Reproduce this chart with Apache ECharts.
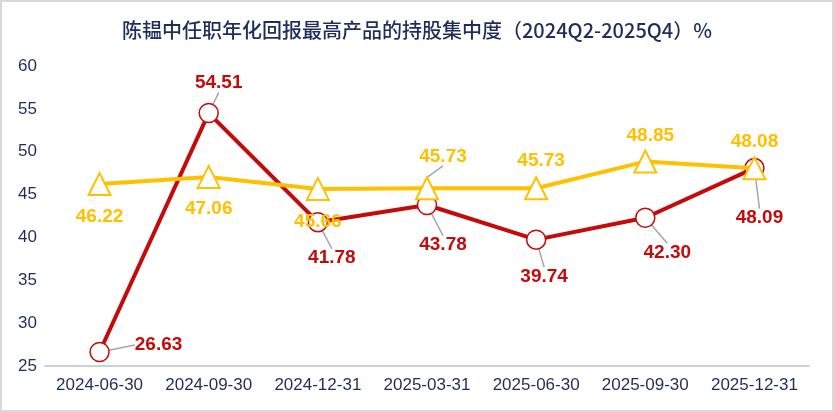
<!DOCTYPE html>
<html><head><meta charset="utf-8">
<script src="https://cdn.jsdelivr.net/npm/echarts@6/dist/echarts.min.js"></script>
<style>
html,body{margin:0;padding:0;background:#fff;}
#wrap{position:absolute;left:0;top:0;width:830px;height:408px;border:2px solid #d9d9d9;}
#c{width:830px;height:408px;}
</style></head>
<body><div id="wrap"><div id="c"></div></div>
<script>
const titleText = '陈韫中任职年化回报最高产品的持股集中度（2024Q2-2025Q4）%';
const categories = ['2024-06-30','2024-09-30','2024-12-31','2025-03-31','2025-06-30','2025-09-30','2025-12-31'];
const redValues = [26.63, 54.51, 41.78, 43.78, 39.74, 42.30, 48.09];
const yellowValues = [46.22, 47.06, 45.66, 45.73, 45.73, 48.85, 48.08];
const yMin = 25, yMax = 60, yStep = 5;

// label offsets (style only)
const redOff = [[59,-7],[10,-30],[14,36],[16,40],[8,37],[22,35],[5,50]];
const yelOff = [[0,33],[0,32],[0,33],[16,-32],[5,-28],[5,-26],[0,-26]];
const yelLine = [false,false,false,true,false,false,false];

const navy = '#1f2d5c';
const red = '#c40a0a';
const yellow = '#ffc000';

const chart = echarts.init(document.getElementById('c'), null, {renderer:'canvas'});
chart.setOption({
  animation:false,
  title:{text:titleText,left:'center',top:13,textStyle:{fontFamily:'"Noto Sans CJK SC", sans-serif',fontSize:20,fontWeight:500,color:navy}},
  grid:{left:43,right:23,top:64,bottom:44},
  xAxis:{type:'category',data:categories,boundaryGap:true,
    axisLine:{lineStyle:{color:'#d0d0d0',width:2}},axisTick:{show:false},
    axisLabel:{interval:0,color:navy,fontSize:17,fontFamily:'"Liberation Sans",Arial,sans-serif',margin:11}},
  yAxis:{type:'value',min:yMin,max:yMax,interval:yStep,splitLine:{show:false},axisLine:{show:false},axisTick:{show:false},
    axisLabel:{color:navy,fontSize:17,fontFamily:'"Liberation Sans",Arial,sans-serif',margin:8,align:'right'}},
  series:[
    {name:'yellow',type:'line',data:yellowValues.map((v,i)=>({value:v,labelLine:{show:yelLine[i]}})),
      symbol:'triangle',symbolSize:22,z:3,
      lineStyle:{color:yellow,width:4},itemStyle:{color:'#fff',borderColor:yellow,borderWidth:2},
      label:{show:true,position:'inside',formatter:p=>p.value.toFixed(2),color:yellow,fontSize:19,fontWeight:'bold',fontFamily:'"Liberation Sans",Arial,sans-serif'},
      labelLine:{lineStyle:{color:'#a6a6a6',width:1.5}},
      labelLayout:p=>({dx:yelOff[p.dataIndex][0],dy:yelOff[p.dataIndex][1]})
    },
    {name:'red',type:'line',data:redValues.map(v=>({value:v})),
      symbol:'circle',symbolSize:19,z:2,
      lineStyle:{color:red,width:4},itemStyle:{color:'#fff',borderColor:red,borderWidth:1.5},
      label:{show:true,position:'inside',formatter:p=>p.value.toFixed(2),color:red,fontSize:19,fontWeight:'bold',fontFamily:'"Liberation Sans",Arial,sans-serif'},
      labelLine:{show:true,lineStyle:{color:'#a6a6a6',width:1.5}},
      labelLayout:p=>({dx:redOff[p.dataIndex][0],dy:redOff[p.dataIndex][1]})
    }
  ]
});
</script></body></html>
